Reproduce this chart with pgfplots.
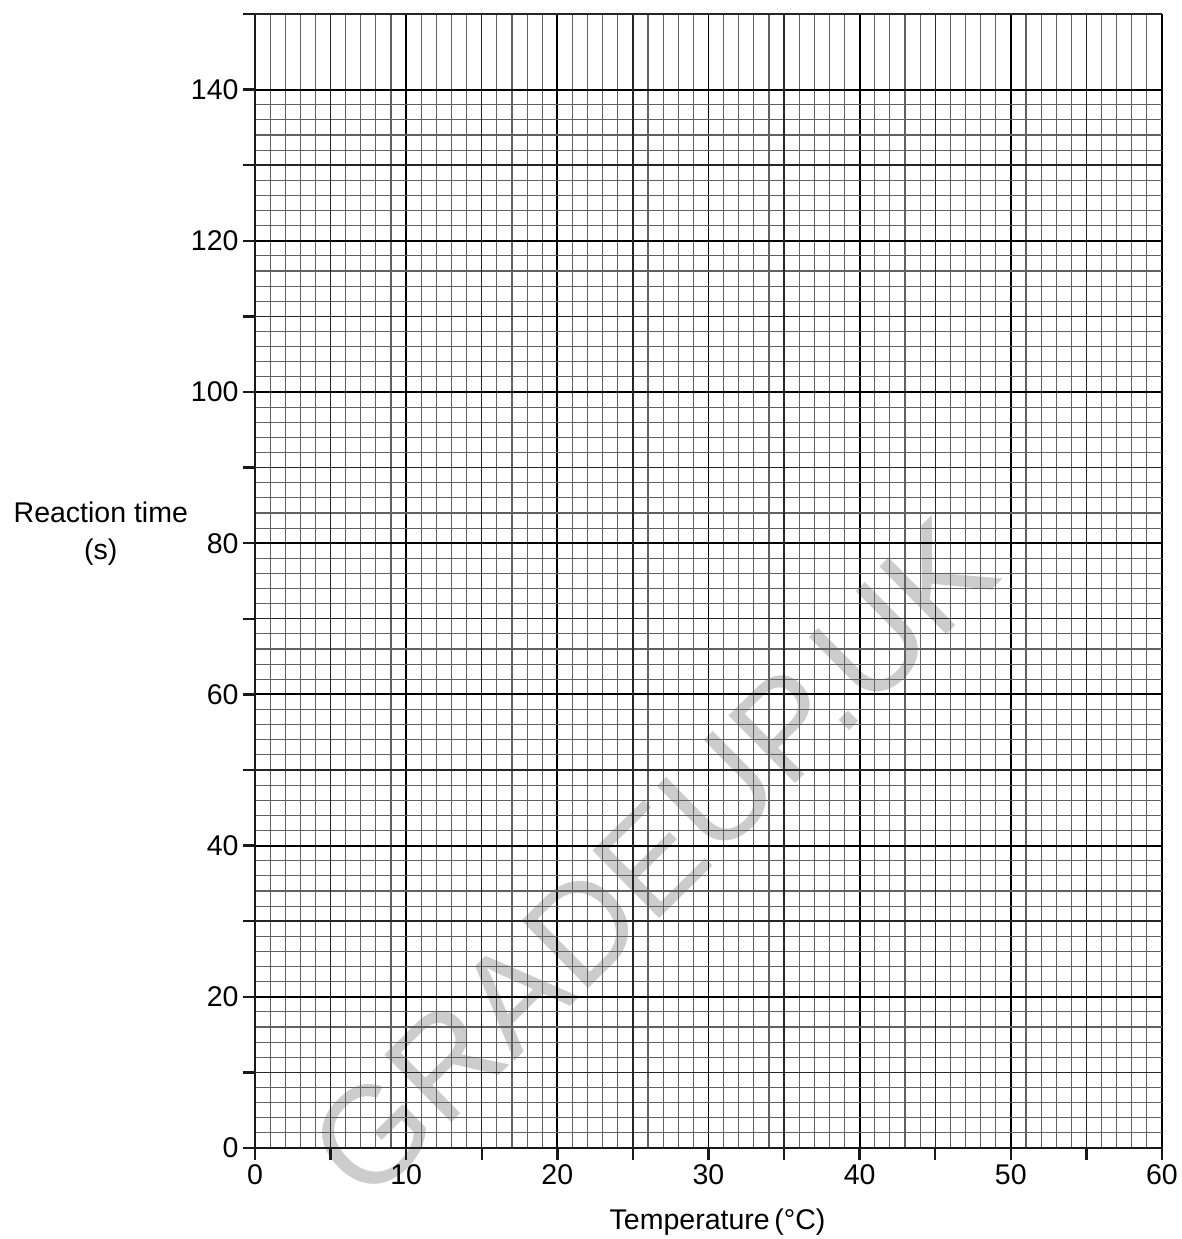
\documentclass[border=0pt]{standalone}
\usepackage{fontspec}
\setmainfont{Liberation Sans}
\usepackage{pgfplots}
\pgfplotsset{compat=1.18}

\newcommand{\lab}{\fontsize{28.5}{37}\selectfont}

\begin{document}
\begin{tikzpicture}
\useasboundingbox (-255pt,-91pt) rectangle (926pt,1148pt);
\begin{axis}[
    scale only axis,
    width=907pt, height=1134pt,
    xmin=0, xmax=60, ymin=0, ymax=150,
    axis lines=left,
    axis line style={-, line width=2.6pt, black!90},
    clip=false,
    axis on top,
    xtick={0,10,...,60},
    ytick={0,20,...,140},
    minor x tick num=9,
    minor y tick num=9,
    extra x ticks={5,15,...,55},
    extra x tick labels={},
    extra y ticks={10,30,...,150},
    extra y tick labels={},
    extra tick style={major grid style={black!85, line width=1.4pt}},
    grid=both,
    minor grid style={black!62, line width=1.1pt},
    major grid style={black, line width=1.9pt},
    tick align=outside,
    major tick length=12pt,
    minor tick length=0pt,
    tick style={black!90, line width=2.4pt},
    /pgf/number format/assume math mode=true,
    tick label style={font=\lab},
    xticklabel style={yshift=-1pt},
    yticklabel style={xshift=-1pt},
    xlabel={Temperature\,(°C)},
    xlabel style={font=\lab, at={(axis description cs:0.510,-0.0653)}, anchor=center},
    ylabel={Reaction time\\(s)},
    ylabel style={font=\lab, rotate=-90, align=center, at={(axis description cs:-0.170,0.5415)}, anchor=center},
  ]
  \node[rotate=44.6, text=black!20, inner sep=0pt, font=\fontsize{138}{138}\selectfont]
    at (axis cs:26.3,38.3) {GRADEUP.UK};
\end{axis}
\end{tikzpicture}
\end{document}
